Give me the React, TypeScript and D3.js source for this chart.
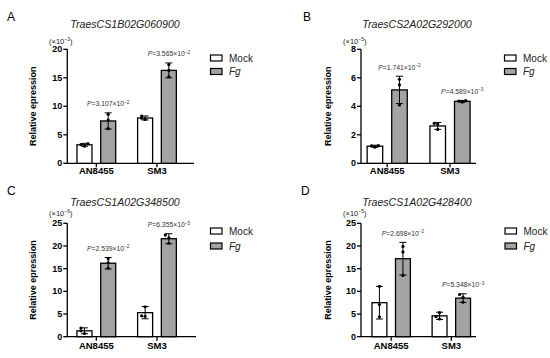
import React from "react";
import * as d3 from "d3";

// ---------- DATA ----------
const categories = ["AN8455", "SM3"];
const treatments = ["Mock", "Fg"];

const titles = ["TraesCS1B02G060900", "TraesCS2A02G292000", "TraesCS1A02G348500", "TraesCS1A02G428400"];
const panelLetters = ["A", "B", "C", "D"];
const unitExponents = ["−3", "−5", "−6", "−5"];
const yMax = [20, 8, 25, 25];
const yTicksA = [0, 5, 10, 15, 20];
const yTicksB = [0, 2, 4, 6, 8];
const yTicksC = [0, 5, 10, 15, 20, 25];
const yTicksD = [0, 5, 10, 15, 20, 25];

// means [AN8455 Mock, AN8455 Fg, SM3 Mock, SM3 Fg]
const meansA = [3.25, 7.43, 7.95, 16.3];
const sdA = [0.25, 1.42, 0.35, 1.3];
const pointsA = [[3.0, 3.3, 3.45], [6.1, 7.6, 8.6], [7.7, 7.9, 8.3], [15.2, 16.3, 17.3]];

const meansB = [1.2, 5.15, 2.62, 4.35];
const sdB = [0.07, 0.96, 0.24, 0.06];
const pointsB = [[1.13, 1.22, 1.25], [4.1, 5.5, 5.9], [2.38, 2.75, 2.8], [4.3, 4.36, 4.4]];

const meansC = [1.3, 16.2, 5.3, 21.6];
const sdC = [0.65, 1.25, 1.35, 1.1];
const pointsC = [[0.7, 1.3, 1.9], [15.1, 16.3, 17.2], [4.5, 4.6, 6.6], [20.6, 21.8, 22.4]];

const meansD = [7.5, 17.2, 4.6, 8.5];
const sdD = [3.6, 3.6, 0.8, 0.95];
const pointsD = [[4.4, 7.1, 11.1], [13.5, 18.7, 19.9], [3.9, 4.4, 5.3], [7.6, 8.7, 9.3]];

// P values [AN8455, SM3]: mantissa, exponent
const pMantA = ["3.107", "3.565"];
const pExpA = ["−2", "−2"];
const pMantB = ["1.741", "4.589"];
const pExpB = ["−2", "−3"];
const pMantC = ["2.539", "6.355"];
const pExpC = ["−2", "−5"];
const pMantD = ["2.698", "5.348"];
const pExpD = ["−2", "−3"];

// ---------- LAYOUT ----------
const FONT = "Arial, 'Liberation Sans', Helvetica, sans-serif";
const FG_FILL = "#a3a3a3";

const layouts = [
  { letterX: 7, letterY: 20.5, titleX: 125, titleY: 28.3, expX: 49, expY: 43.5, axisX: 67.3, yTop: 49.3, yBase: 163.3, xEnd: 194, band: [66, 187.3], ylabX: 36, catY: 174, legX: 210.5, legY: [58, 71.5] },
  { letterX: 303, letterY: 20.5, titleX: 417, titleY: 28.3, expX: 343, expY: 43.5, axisX: 361, yTop: 49.3, yBase: 163.3, xEnd: 476, band: [355.8, 481.4], ylabX: 331, catY: 174, legX: 504.5, legY: [58, 71.5] },
  { letterX: 7, letterY: 194.5, titleX: 125, titleY: 205.7, expX: 49, expY: 215.5, axisX: 67.3, yTop: 223.3, yBase: 336.7, xEnd: 196, band: [66, 187.3], ylabX: 36, catY: 348.5, legX: 210.5, legY: [231, 246] },
  { letterX: 301, letterY: 194.5, titleX: 417, titleY: 205.7, expX: 343, expY: 215.5, axisX: 361, yTop: 223.3, yBase: 336.7, xEnd: 476, band: [361.1, 481.4], ylabX: 331, catY: 348.5, legX: 505, legY: [231, 246] },
];

const panelData = [
  { means: meansA, sd: sdA, points: pointsA, ticks: yTicksA, pMant: pMantA, pExp: pExpA },
  { means: meansB, sd: sdB, points: pointsB, ticks: yTicksB, pMant: pMantB, pExp: pExpB },
  { means: meansC, sd: sdC, points: pointsC, ticks: yTicksC, pMant: pMantC, pExp: pExpC },
  { means: meansD, sd: sdD, points: pointsD, ticks: yTicksD, pMant: pMantD, pExp: pExpD },
];

function Panel({ idx }: { idx: number }) {
  const L = layouts[idx];
  const D = panelData[idx];
  const y = d3.scaleLinear().domain([0, yMax[idx]]).range([L.yBase, L.yTop]);
  const x = d3.scaleBand<string>().domain(categories).range(L.band as [number, number]).padding(0);
  const xi = d3
    .scaleBand<string>()
    .domain(treatments)
    .range([0, x.bandwidth()])
    .paddingInner(0.367)
    .paddingOuter(0.462);
  const bw = xi.bandwidth();
  const capW = 7;

  const bars: React.ReactNode[] = [];
  const pLabels: React.ReactNode[] = [];
  categories.forEach((cat, ci) => {
    treatments.forEach((tr, ti) => {
      const k = ci * 2 + ti;
      const m = D.means[k];
      const s = D.sd[k];
      const bx = (x(cat) as number) + (xi(tr) as number);
      const cx = bx + bw / 2;
      const yTopErr = y(m + s);
      const yBotErr = y(Math.max(0, m - s));
      const pts = D.points[k].map((v) => y(v));
      const placed: { px: number; py: number }[] = [];
      const offs = [0, -3.5, 3.5, -7, 7];
      pts.forEach((py) => {
        let n = 0;
        placed.forEach((p) => {
          if (Math.abs(p.py - py) < 3.2) n++;
        });
        placed.push({ px: cx + offs[Math.min(n, 4)], py });
      });
      bars.push(
        <g key={`b${k}`}>
          <rect x={bx} y={y(m)} width={bw} height={L.yBase - y(m)} fill={tr === "Mock" ? "#ffffff" : FG_FILL} stroke="#000" strokeWidth={1.3} />
          <line x1={cx} x2={cx} y1={yTopErr} y2={yBotErr} stroke="#000" strokeWidth={1} />
          <line x1={cx - capW / 2} x2={cx + capW / 2} y1={yTopErr} y2={yTopErr} stroke="#000" strokeWidth={1} />
          <line x1={cx - capW / 2} x2={cx + capW / 2} y1={yBotErr} y2={yBotErr} stroke="#000" strokeWidth={1} />
          {placed.map((p, i) => (
            <circle key={i} cx={p.px} cy={p.py} r={1.6} fill="#000" />
          ))}
        </g>
      );
      if (tr === "Fg") {
        pLabels.push(
          <text key={`p${ci}`} x={cx} y={yTopErr - 6.5} textAnchor="middle" fontSize={6.8} fill="#333" fontFamily={FONT}>
            <tspan fontStyle="italic">P</tspan>
            <tspan>{`=${D.pMant[ci]}×10`}</tspan>
            <tspan dy={-2.6} fontSize={4.6}>{D.pExp[ci]}</tspan>
          </text>
        );
      }
    });
  });

  return (
    <g>
      <text x={L.letterX} y={L.letterY} fontSize={12} fontFamily={FONT} fill="#000">{panelLetters[idx]}</text>
      <text x={L.titleX} y={L.titleY} fontSize={10.6} fontStyle="italic" textAnchor="middle" fontFamily={FONT} fill="#222">{titles[idx]}</text>
      <text x={L.expX} y={L.expY} fontSize={7.5} fontFamily={FONT} fill="#222">
        <tspan>(×10</tspan>
        <tspan dy={-2.8} fontSize={5}>{unitExponents[idx]}</tspan>
        <tspan dy={2.8}>)</tspan>
      </text>
      <line x1={L.axisX} x2={L.axisX} y1={L.yTop} y2={L.yBase} stroke="#000" strokeWidth={1.3} />
      {D.ticks.map((t) => (
        <g key={t}>
          <line x1={L.axisX - 4} x2={L.axisX} y1={y(t)} y2={y(t)} stroke="#000" strokeWidth={1.3} />
          <text x={L.axisX - 5} y={y(t)} dy="0.35em" textAnchor="end" fontSize={9} fontWeight="bold" fontFamily={FONT} fill="#000">{t}</text>
        </g>
      ))}
      <text transform={`translate(${L.ylabX},${(L.yTop + L.yBase) / 2}) rotate(-90)`} textAnchor="middle" fontSize={9} fontWeight="bold" fontFamily={FONT} fill="#000">Relative epression</text>
      <line x1={L.axisX - 0.65} x2={L.xEnd} y1={L.yBase} y2={L.yBase} stroke="#000" strokeWidth={1.3} />
      {categories.map((c) => {
        const cx = (x(c) as number) + x.bandwidth() / 2;
        return (
          <g key={c}>
            <line x1={cx} x2={cx} y1={L.yBase} y2={L.yBase + 4} stroke="#000" strokeWidth={1.3} />
            <text x={cx} y={L.catY} textAnchor="middle" fontSize={9.5} fontWeight="bold" fontFamily={FONT} fill="#000">{c}</text>
          </g>
        );
      })}
      {bars}
      {pLabels}
      {treatments.map((tr, i) => (
        <g key={tr}>
          <rect x={L.legX} y={L.legY[i] - 3} width={11.5} height={6} fill={tr === "Mock" ? "#fff" : FG_FILL} stroke="#000" strokeWidth={1.2} />
          <text x={L.legX + 18.5} y={L.legY[i]} dy="0.35em" fontSize={10} fontStyle={tr === "Fg" ? "italic" : "normal"} fontFamily={FONT} fill="#222">{tr}</text>
        </g>
      ))}
    </g>
  );
}

export default function App() {
  return (
    <svg width={550} height={358} style={{ position: "absolute", left: 0, top: 0, background: "#fff" }}>
      <rect width={550} height={358} fill="#fff" />
      {[0, 1, 2, 3].map((i) => (
        <Panel key={i} idx={i} />
      ))}
    </svg>
  );
}
